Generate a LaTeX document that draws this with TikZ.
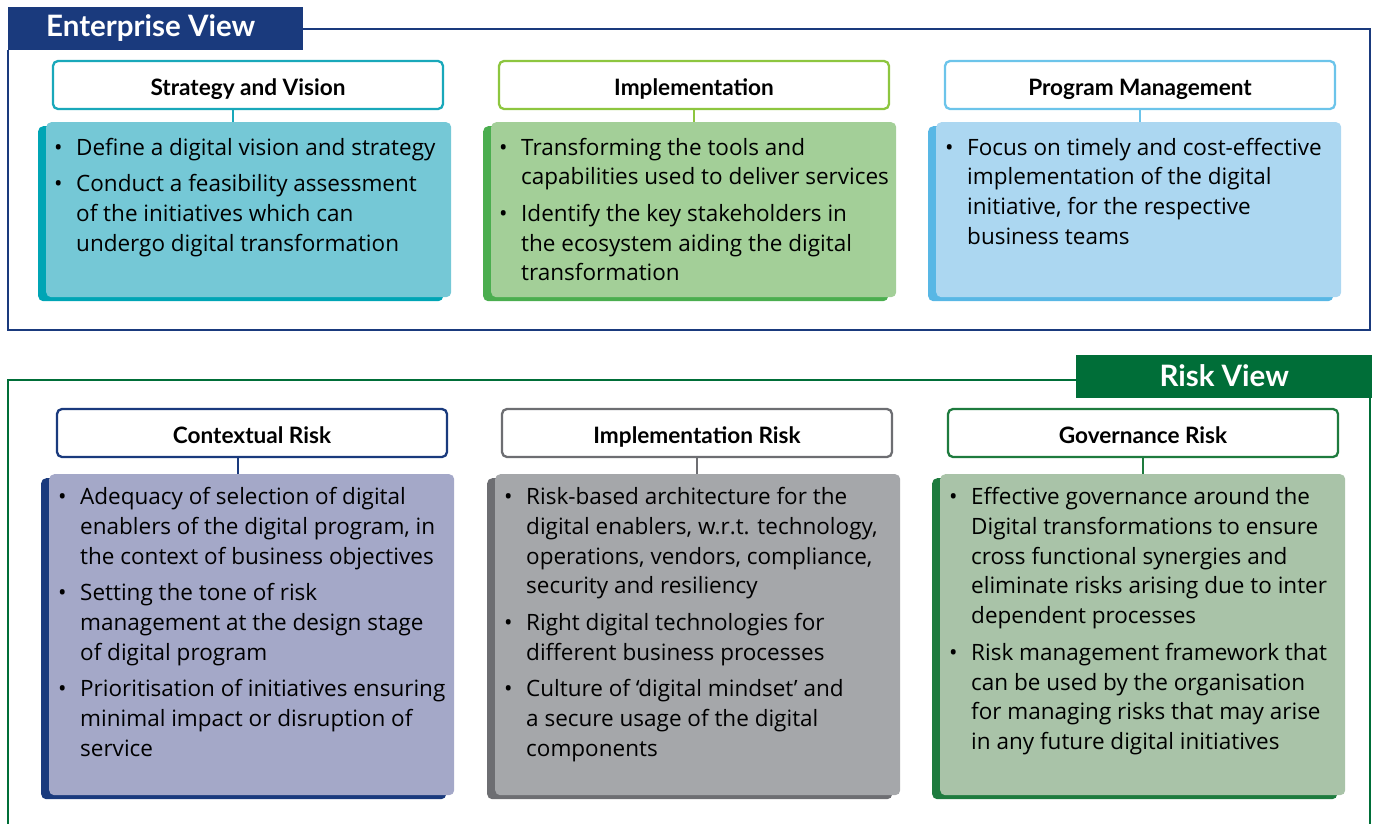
\documentclass[tikz,border=0pt]{standalone}
\usepackage{fontspec}
\setmainfont{Open Sans}
\newfontfamily\headfont{Lato}
\usetikzlibrary{shadows}

\definecolor{navy}{HTML}{1A3A7D}
\definecolor{forest}{HTML}{006E38}
\definecolor{tealB}{HTML}{19A8BA}
\definecolor{tealF}{HTML}{75C8D6}
\definecolor{tealD}{HTML}{00A5B5}
\definecolor{limeB}{HTML}{8DC63F}
\definecolor{limeF}{HTML}{A3CF98}
\definecolor{limeD}{HTML}{4BAE4F}
\definecolor{skyB}{HTML}{6CC4EA}
\definecolor{skyF}{HTML}{ACD7F1}
\definecolor{skyD}{HTML}{58B7E5}
\definecolor{lilacF}{HTML}{A4A8C8}
\definecolor{greyB}{HTML}{6D6E72}
\definecolor{greyF}{HTML}{A5A7AA}
\definecolor{sageB}{HTML}{1E7B3E}
\definecolor{sageF}{HTML}{A9C3A8}

\newcommand\bu{\makebox[22pt][l]{\textbullet}}
\newcommand\blist[1]{{\fontsize{22.5}{29.8}\selectfont\begin{tabular}{@{}l@{}l@{}}#1\end{tabular}}}

\tikzset{
  frameline/.style={draw=#1, line width=1.4pt},
  headbar/.style={fill=#1, inner sep=0, anchor=north west},
  headtext/.style={text=white, font=\headfont\bfseries\fontsize{29.5}{32}\selectfont, inner sep=0},
  titlebox/.style={draw=#1, line width=2.3pt, rounded corners=5pt, fill=white,
    minimum width=390, minimum height=48, inner sep=0, text height=20pt, text depth=0pt,
    font=\headfont\bfseries\fontsize{22.6}{26}\selectfont},
  bodybox/.style 2 args={fill=#1, rounded corners=5pt, inner sep=0, anchor=north west,
    minimum width=405, general shadow={fill=#2, shadow xshift=-8pt, shadow yshift=-4pt}},
  link/.style={draw=#1, line width=2.3pt},
  bodytext/.style={anchor=north west, inner sep=0, align=left},
}

\begin{document}
\begin{tikzpicture}[x=1pt,y=-1pt]
\useasboundingbox (0,0) rectangle (1375,823);
\clip (0,0) rectangle (1375,823);

% ---------------- Enterprise view ----------------
\draw[frameline=navy] (303,29) -| (1370,330) -| (8,50);
\node[headbar=navy, minimum width=295, minimum height=43] (ev) at (8,7) {};
\node[headtext, anchor=west] (evt) at ([xshift=38,yshift=1]ev.west) {Enterprise View};

\node[titlebox=tealB] (t1) at (248,85) {Strategy and Vision};
\node[titlebox=limeB] (t2) at (694,85) {Implementation};
\node[titlebox=skyB] (t3) at (1140,85) {Program Management};

\node[bodybox={tealF}{tealD}, minimum height=175] (b1) at (46,122) {};
\node[bodybox={limeF}{limeD}, minimum height=175] (b2) at (491,122) {};
\node[bodybox={skyF}{skyD}, minimum height=175] (b3) at (936,122) {};

\draw[link=tealB] ([xshift=-15]t1.south) -- ([xshift=-15]t1.south |- b1.north);
\draw[link=limeB] (t2.south) -- (t2.south |- b2.north);
\draw[link=skyB] (t3.south) -- (t3.south |- b3.north);

\node[bodytext] (x1) at (54,134) {\blist{
 \bu & Define a digital vision and strategy\\[6.7pt]
 \bu & Conduct a feasibility assessment\\
     & of the initiatives which can\\
     & undergo digital transformation}};
\node[bodytext] (x2) at (499,134) {\blist{
 \bu & Transforming the tools and\\
     & capabilities used to deliver services\\[6.7pt]
 \bu & Identify the key stakeholders in\\
     & the ecosystem aiding the digital\\
     & transformation}};
\node[bodytext] (x3) at (945,134) {\blist{
 \bu & Focus on timely and cost-effective\\
     & implementation of the digital\\
     & initiative, for the respective\\
     & business teams}};

% ---------------- Risk view ----------------
\draw[frameline=forest] (1076,380) -- (8,380) -- (8,830);
\draw[frameline=forest] (1370,398) -- (1370,830);
\node[headbar=forest, minimum width=296, minimum height=43] (rv) at (1076,355) {};
\node[headtext] (rvt) at ([yshift=1]rv.center) {Risk View};

\node[titlebox=navy] (r1) at (252,433) {Contextual Risk};
\node[titlebox=greyB] (r2) at (697,433) {Implementation Risk};
\node[titlebox=sageB] (r3) at (1143,433) {Governance Risk};

\node[bodybox={lilacF}{navy}, minimum height=321] (c1) at (49,474) {};
\node[bodybox={greyF}{greyB}, minimum height=321] (c2) at (495,474) {};
\node[bodybox={sageF}{sageB}, minimum height=321] (c3) at (940,474) {};

\draw[link=navy] ([xshift=-14]r1.south) -- ([xshift=-14]r1.south |- c1.north);
\draw[link=greyB] (r2.south) -- (r2.south |- c2.north);
\draw[link=sageB] (r3.south) -- (r3.south |- c3.north);

\node[bodytext] (y1) at (58,483.5) {\blist{
 \bu & Adequacy of selection of digital\\
     & enablers of the digital program, in\\
     & the context of business objectives\\[6.7pt]
 \bu & Setting the tone of risk\\
     & management at the design stage\\
     & of digital program\\[6.7pt]
 \bu & Prioritisation of initiatives ensuring\\
     & minimal impact or disruption of\\
     & service}};
\node[bodytext] (y2) at (504,483.5) {\blist{
 \bu & Risk-based architecture for the\\
     & digital enablers, w.r.t. technology,\\
     & operations, vendors, compliance,\\
     & security and resiliency\\[6.7pt]
 \bu & Right digital technologies for\\
     & different business processes\\[6.7pt]
 \bu & Culture of ‘digital mindset’ and\\
     & a secure usage of the digital\\
     & components}};
\node[bodytext] (y3) at (949,483.5) {\blist{
 \bu & Effective governance around the\\
     & Digital transformations to ensure\\
     & cross functional synergies and\\
     & eliminate risks arising due to inter\\
     & dependent processes\\[6.7pt]
 \bu & Risk management framework that\\
     & can be used by the organisation\\
     & for managing risks that may arise\\
     & in any future digital initiatives}};
\end{tikzpicture}
\end{document}
